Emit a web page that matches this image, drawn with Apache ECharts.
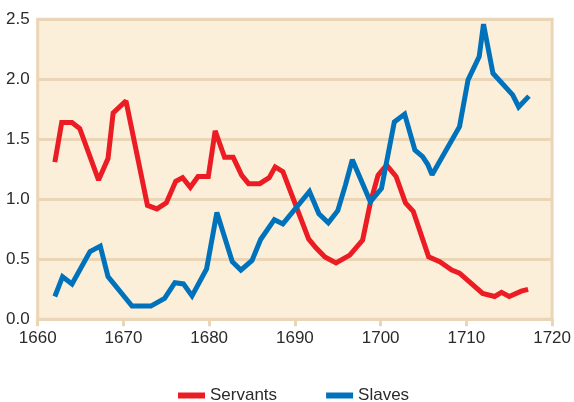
<!DOCTYPE html>
<html>
<head>
<meta charset="utf-8">
<script src="https://cdn.jsdelivr.net/npm/echarts@6/dist/echarts.min.js"></script>
<style>
html,body{margin:0;padding:0;background:#ffffff;}
#chart{width:574px;height:402px;}
</style>
</head>
<body>
<div id="chart"></div>
<script>
// Data
var servantYears = [1662.0,1662.8,1664.0,1664.9,1667.1,1668.2,1668.8,1670.3,1672.8,1673.9,1675.0,1676.1,1676.9,1677.8,1678.7,1679.9,1680.7,1681.8,1682.8,1683.8,1684.6,1685.9,1687.0,1687.7,1688.6,1691.6,1692.4,1693.5,1694.8,1696.4,1697.9,1698.8,1699.7,1700.7,1701.8,1702.9,1703.8,1705.6,1706.9,1708.3,1709.2,1711.9,1713.3,1714.1,1715.0,1716.4,1717.2];
var servantValues = [1.31,1.64,1.64,1.59,1.16,1.34,1.72,1.82,0.95,0.92,0.97,1.15,1.18,1.10,1.19,1.19,1.57,1.35,1.35,1.20,1.13,1.13,1.18,1.27,1.23,0.67,0.60,0.52,0.47,0.535,0.66,0.97,1.20,1.285,1.19,0.97,0.90,0.52,0.48,0.41,0.385,0.215,0.19,0.225,0.19,0.235,0.25];
var slaveYears = [1662.0,1662.9,1664.0,1666.1,1667.3,1668.2,1671.0,1673.2,1674.8,1676.0,1677.0,1678.0,1679.7,1680.9,1682.7,1683.7,1685.0,1686.0,1687.6,1688.6,1691.7,1692.8,1693.9,1695.0,1695.9,1696.7,1698.8,1700.1,1701.6,1702.8,1704.0,1704.9,1705.5,1706.0,1709.2,1710.2,1711.5,1712.0,1713.1,1715.4,1716.1,1717.3];
var slaveValues = [0.19,0.355,0.295,0.565,0.61,0.355,0.11,0.11,0.175,0.305,0.295,0.195,0.42,0.89,0.48,0.41,0.49,0.665,0.83,0.795,1.065,0.88,0.805,0.905,1.12,1.33,0.98,1.09,1.645,1.71,1.41,1.355,1.29,1.205,1.605,1.995,2.19,2.46,2.05,1.87,1.77,1.86];
var xTicks = [1660,1670,1680,1690,1700,1710,1720];
var yTicks = [0.0,0.5,1.0,1.5,2.0,2.5];
var seriesNames = ['Servants','Slaves'];

function pairs(xs, ys){ return xs.map(function(x,i){ return [x, ys[i]]; }); }

var tan = '#ead5b7';
var textColor = '#2b2b2b';
var font = 'Liberation Sans, Arial, Helvetica, sans-serif';

var chart = echarts.init(document.getElementById('chart'), null, {renderer:'canvas'});
chart.setOption({
  animation:false,
  backgroundColor:'#ffffff',
  grid:{
    left:37.7, right:574-552.3, top:19.3, bottom:402-319.3,
    show:true, backgroundColor:'#fcefd9', borderColor:tan, borderWidth:3
  },
  legend:{
    data:seriesNames,
    left:173, top:382,
    itemWidth:27, itemHeight:6, itemGap:49,
    icon:'rect',
    textStyle:{fontFamily:font, fontSize:17, color:textColor, padding:[0,0,0,0]}
  },
  xAxis:{
    type:'value', min:xTicks[0], max:xTicks[xTicks.length-1], interval:10,
    axisLine:{show:true, onZero:false, lineStyle:{color:tan, width:3}},
    axisTick:{show:true, length:7, lineStyle:{color:tan, width:3}},
    axisLabel:{fontFamily:font, fontSize:17, color:textColor, margin:11,
      formatter:function(v){ return String(v); }},
    splitLine:{show:false}
  },
  yAxis:{
    type:'value', min:yTicks[0], max:yTicks[yTicks.length-1], interval:0.5,
    axisLine:{show:false}, axisTick:{show:false},
    axisLabel:{fontFamily:font, fontSize:17, color:textColor, margin:8,
      formatter:function(v){ return v.toFixed(1); }},
    splitLine:{show:true, lineStyle:{color:tan, width:3}}
  },
  series:[
    {name:seriesNames[0], type:'line', data:pairs(servantYears, servantValues), showSymbol:false, symbol:'none',
      color:'#ec1c24', lineStyle:{color:'#ec1c24', width:5, join:'miter', miterLimit:2}},
    {name:seriesNames[1], type:'line', data:pairs(slaveYears, slaveValues), showSymbol:false, symbol:'none',
      color:'#0072bc', lineStyle:{color:'#0072bc', width:5, join:'miter', miterLimit:2}}
  ]
});
</script>
</body>
</html>
